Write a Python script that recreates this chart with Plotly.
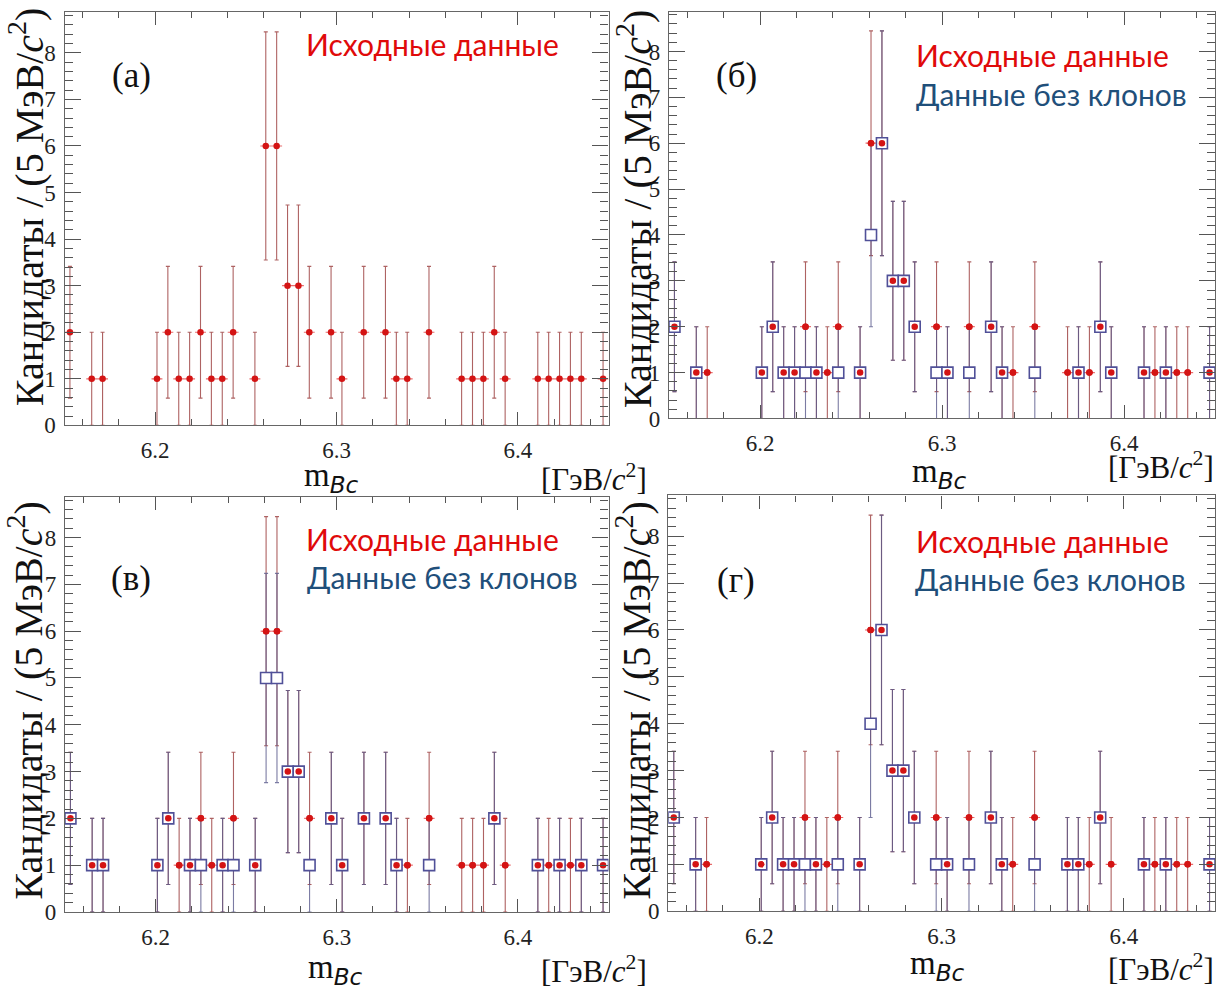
import numpy as np
import plotly.graph_objects as go

# ---------------- data ----------------
# centres of the occupied 6 MeV bins (GeV/c^2)
mass_bins = [6.153, 6.165, 6.171, 6.201, 6.207, 6.213, 6.219, 6.225, 6.231, 6.237,
             6.243, 6.255, 6.261, 6.267, 6.273, 6.279, 6.285, 6.297, 6.303, 6.315,
             6.327, 6.333, 6.339, 6.351, 6.369, 6.375, 6.381, 6.387, 6.393, 6.411,
             6.417, 6.423, 6.429, 6.435, 6.447]
half_bin = 0.003

# original data (Исходные данные)
counts_orig = [2, 1, 1, 1, 2, 1, 1, 2, 1, 1,
               2, 1, 6, 6, 3, 3, 2, 2, 1, 2,
               2, 1, 1, 2, 1, 1, 1, 2, 1, 1,
               1, 1, 1, 1, 1]
# data without clones (Данные без клонов), panels б, в, г
counts_b = [2, 1, 0, 1, 2, 1, 1, 1, 1, 0,
            1, 1, 4, 6, 3, 3, 2, 1, 1, 1,
            2, 1, 0, 1, 0, 1, 0, 2, 1, 1,
            0, 1, 0, 0, 1]
counts_v = [2, 1, 1, 1, 2, 0, 1, 1, 0, 1,
            1, 1, 5, 5, 3, 3, 1, 2, 1, 2,
            2, 1, 0, 1, 0, 0, 0, 2, 0, 1,
            0, 1, 0, 1, 1]
counts_g = [2, 1, 0, 1, 2, 1, 1, 1, 1, 0,
            1, 1, 4, 6, 3, 3, 2, 1, 1, 1,
            2, 1, 0, 1, 1, 1, 0, 2, 0, 1,
            0, 1, 0, 0, 1]

panel_labels = ["(a)", "(б)", "(в)", "(г)"]
text_orig = "Исходные данные"
text_clean = "Данные без клонов"
x_range = [6.15, 6.45]
y_range = [0, 8.87]
x_tickvals = [6.2, 6.3, 6.4]
y_tickvals = [0, 1, 2, 3, 4, 5, 6, 7, 8]

# ---------------- layout helpers ----------------
W, H = 1221, 996
def px(x):
    return x / W
def py(y):
    return 1 - y / H

# panel frames in pixels: (left, right, top, bottom)
frames = [(64.5, 608.5, 12.5, 431.0),
          (669.0, 1215.0, 11.7, 424.0),
          (65.0, 608.5, 503.5, 924.0),
          (668.3, 1215.0, 502.0, 923.3)]

RED = "#d41414"
RED_BAR = "rgba(160,70,70,0.85)"
RED_XBAR = "rgba(225,70,70,0.8)"
BLUE = "#505098"
BLUE_BAR = "rgba(90,90,140,0.8)"

fig = go.Figure()

def axis_ids(idx):
    return ("x" if idx == 0 else f"x{idx+1}", "y" if idx == 0 else f"y{idx+1}")

def nonzero(counts):
    xs, ys = [], []
    for x, c in zip(mass_bins, counts):
        if c > 0:
            xs.append(x); ys.append(c)
    return xs, ys

def add_orig(idx, with_bars=True):
    xa, ya = axis_ids(idx)
    xs, ys = nonzero(counts_orig)
    kw = {}
    if with_bars:
        kw["error_y"] = dict(type="data", array=[float(np.sqrt(v)) for v in ys], visible=True,
                             color=RED_BAR, thickness=1.1, width=2)
        kw["error_x"] = dict(type="constant", value=half_bin, visible=True, color=RED_XBAR,
                             thickness=1.2, width=0)
    fig.add_trace(go.Scatter(x=xs, y=ys, mode="markers", xaxis=xa, yaxis=ya, showlegend=False,
                             marker=dict(symbol="circle", size=6.5, color=RED), **kw))

def add_clean(counts, idx):
    xa, ya = axis_ids(idx)
    xs, ys = nonzero(counts)
    fig.add_trace(go.Scatter(
        x=xs, y=ys, mode="markers", xaxis=xa, yaxis=ya, showlegend=False,
        marker=dict(symbol="square", size=11, color="white",
                    line=dict(color=BLUE, width=1.6)),
        error_y=dict(type="data", array=[float(np.sqrt(v)) for v in ys], visible=True,
                     color=BLUE_BAR, thickness=1.1, width=2),
        error_x=dict(type="constant", value=half_bin, visible=True, color=BLUE_BAR,
                     thickness=1.2, width=0)))

clean_sets = [None, counts_b, counts_v, counts_g]
for i in range(4):
    add_orig(i, with_bars=True)
    if clean_sets[i] is not None:
        add_clean(clean_sets[i], i)
        add_orig(i, with_bars=False)

axis_font = dict(family="Liberation Serif", size=23, color="#222222")
layout = dict(width=W, height=H, autosize=False,
              margin=dict(l=0, r=0, t=0, b=0),
              paper_bgcolor="white", plot_bgcolor="white")

for i, (l, r, t, b) in enumerate(frames):
    sfx = "" if i == 0 else str(i + 1)
    layout["xaxis" + sfx] = dict(
        domain=[px(l), px(r)], range=x_range, anchor="y" + sfx,
        tickmode="array", tickvals=x_tickvals, ticktext=[f"{v:.1f}" for v in x_tickvals],
        ticks="inside", ticklen=13, tickwidth=1.2, tickcolor="#555555",
        minor=dict(dtick=0.02, tick0=6.16, ticks="inside", ticklen=6, tickcolor="#555555", tickwidth=1),
        showline=True, linecolor="#666666", linewidth=1.2, mirror="allticks",
        showgrid=False, zeroline=False, tickfont=axis_font, ticklabelstandoff=4)
    layout["yaxis" + sfx] = dict(
        domain=[py(b), py(t)], range=y_range, anchor="x" + sfx,
        tickmode="array", tickvals=y_tickvals,
        ticks="inside", ticklen=16, tickwidth=1.2, tickcolor="#555555",
        minor=dict(dtick=0.2, tick0=0, ticks="inside", ticklen=8, tickcolor="#555555", tickwidth=1),
        showline=True, linecolor="#666666", linewidth=1.2, mirror="allticks",
        showgrid=False, zeroline=False, tickfont=axis_font, ticklabelstandoff=3)

fig.update_layout(**layout)

ann = []
serif = "Liberation Serif"
# y titles
for (xc, yc) in [(26, 210), (634, 212), (26, 710), (634, 710)]:
    ann.append(dict(x=px(xc), y=py(yc), xref="paper", yref="paper",
                    text="Кандидаты / (5 МэВ/<i>c</i><sup>2</sup>)", textangle=-90,
                    showarrow=False, xanchor="center", yanchor="middle",
                    font=dict(family=serif, size=40, color="#111111")))
# x titles
for (xl, yc) in [(302, 484), (910, 480), (306, 982), (908, 978)]:
    ann.append(dict(x=px(xl), y=py(yc), xref="paper", yref="paper",
                    text="m<sub><span style='font-family:DejaVu Sans'><i>Bc</i></span></sub>",
                    showarrow=False, xanchor="left", yanchor="middle",
                    font=dict(family=serif, size=33, color="#111111")))
for (xl, yc) in [(539, 484), (1106, 472), (539, 982), (1106, 980)]:
    ann.append(dict(x=px(xl), y=py(yc), xref="paper", yref="paper",
                    text="[ГэВ/<i>c</i><sup>2</sup>]", showarrow=False,
                    xanchor="left", yanchor="middle",
                    font=dict(family=serif, size=31, color="#111111")))
# panel labels
for lab, (xc, yc) in zip(panel_labels, [(131, 76), (736, 77), (131, 586), (736, 588)]):
    ann.append(dict(x=px(xc), y=py(yc), xref="paper", yref="paper",
                    text=lab, showarrow=False, xanchor="center", yanchor="middle",
                    font=dict(family=serif, size=35, color="#111111")))
# coloured legend texts
red_pos = [(304, 45), (914, 56), (304, 546), (914, 548)]
blue_pos = [None, (914, 95), (305, 585), (913, 587)]
for i in range(4):
    xl, yc = red_pos[i]
    ann.append(dict(x=px(xl), y=py(yc), xref="paper", yref="paper", text=text_orig,
                    showarrow=False, xanchor="left", yanchor="middle",
                    font=dict(family="Lato", size=30, color="#e00a0a")))
    if blue_pos[i] is not None:
        xl, yc = blue_pos[i]
        ann.append(dict(x=px(xl), y=py(yc), xref="paper", yref="paper", text=text_clean,
                        showarrow=False, xanchor="left", yanchor="middle",
                        font=dict(family="Lato", size=30, color="#1f4f7a")))
fig.update_layout(annotations=ann)

fig.write_html("out.html", config={"displayModeBar": False},
               post_script="document.body.style.margin='0';document.body.style.overflow='hidden';")
